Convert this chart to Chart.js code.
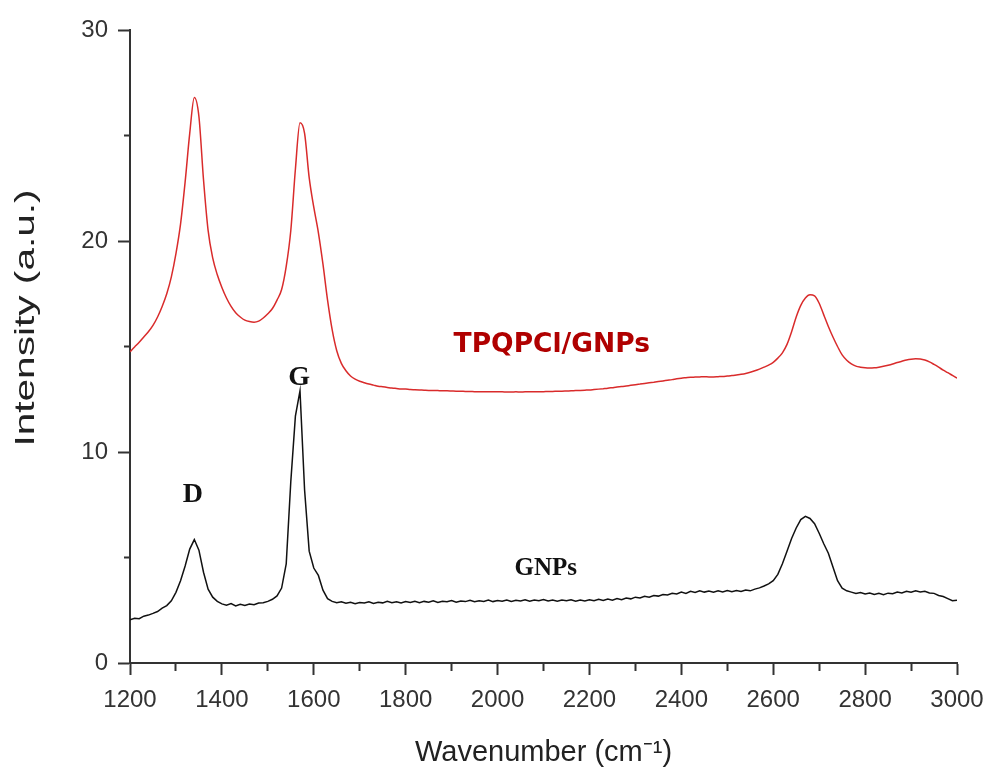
<!DOCTYPE html>
<html>
<head>
<meta charset="utf-8">
<script src="https://cdn.jsdelivr.net/npm/chart.js@4.4.1/dist/chart.umd.min.js"></script>
<style>
  html, body { margin: 0; padding: 0; background: #ffffff; }
  #wrap { width: 988px; height: 769px; }
</style>
</head>
<body>
<div id="wrap"><canvas id="c" width="988" height="769"></canvas></div>
<script>
// ---- data ----
const wavenumbers = [
  1200,1210,1220,1230,1240,1250,1260,1270,1280,1290,
  1300,1310,1320,1330,1340,1350,1360,1370,1380,1390,
  1400,1410,1420,1430,1440,1450,1460,1470,1480,1490,
  1500,1510,1520,1530,1540,1550,1560,1570,1580,1590,
  1600,1610,1620,1630,1640,1650,1660,1670,1680,1690,
  1700,1710,1720,1730,1740,1750,1760,1770,1780,1790,
  1800,1810,1820,1830,1840,1850,1860,1870,1880,1890,
  1900,1910,1920,1930,1940,1950,1960,1970,1980,1990,
  2000,2010,2020,2030,2040,2050,2060,2070,2080,2090,
  2100,2110,2120,2130,2140,2150,2160,2170,2180,2190,
  2200,2210,2220,2230,2240,2250,2260,2270,2280,2290,
  2300,2310,2320,2330,2340,2350,2360,2370,2380,2390,
  2400,2410,2420,2430,2440,2450,2460,2470,2480,2490,
  2500,2510,2520,2530,2540,2550,2560,2570,2580,2590,
  2600,2610,2620,2630,2640,2650,2660,2670,2680,2690,
  2700,2710,2720,2730,2740,2750,2760,2770,2780,2790,
  2800,2810,2820,2830,2840,2850,2860,2870,2880,2890,
  2900,2910,2920,2930,2940,2950,2960,2970,2980,2990,
  3000
];

const tpqpclGnps = [
  14.75,14.98,15.2,15.45,15.7,16.0,16.4,16.9,17.5,18.3,
  19.4,20.8,22.8,25.1,26.8,25.9,22.9,20.5,19.2,18.4,
  17.8,17.3,16.9,16.6,16.4,16.25,16.18,16.15,16.2,16.35,
  16.55,16.8,17.2,17.7,18.8,20.5,23.4,25.6,25.1,23.0,
  21.6,20.4,18.9,17.2,15.8,14.8,14.2,13.85,13.6,13.45,
  13.35,13.28,13.22,13.17,13.12,13.09,13.06,13.03,13.01,12.99,
  12.98,12.96,12.95,12.94,12.93,12.92,12.92,12.91,12.9,12.9,
  12.89,12.88,12.88,12.87,12.87,12.86,12.86,12.86,12.85,12.85,
  12.85,12.85,12.84,12.84,12.85,12.84,12.85,12.85,12.86,12.86,
  12.86,12.87,12.87,12.88,12.88,12.89,12.9,12.91,12.92,12.93,
  12.94,12.96,12.98,13.0,13.02,13.05,13.08,13.1,13.13,13.16,
  13.19,13.22,13.25,13.28,13.31,13.34,13.37,13.4,13.43,13.47,
  13.5,13.52,13.54,13.55,13.56,13.57,13.56,13.56,13.57,13.58,
  13.6,13.62,13.65,13.68,13.72,13.78,13.85,13.93,14.02,14.12,
  14.25,14.45,14.7,15.1,15.7,16.4,16.95,17.3,17.45,17.4,
  17.05,16.5,15.95,15.45,15.0,14.6,14.35,14.18,14.07,14.02,
  13.99,13.98,13.99,14.02,14.06,14.11,14.17,14.24,14.3,14.36,
  14.4,14.42,14.41,14.36,14.27,14.15,14.02,13.88,13.76,13.63,
  13.5
];

const gnps = [
  2.05,2.12,2.1,2.22,2.27,2.35,2.44,2.6,2.72,2.95,
  3.35,3.9,4.6,5.4,5.85,5.35,4.3,3.5,3.12,2.92,
  2.8,2.74,2.82,2.7,2.78,2.73,2.8,2.76,2.84,2.86,
  2.92,3.02,3.18,3.55,4.7,8.6,11.7,12.9,8.2,5.3,
  4.5,4.15,3.45,3.05,2.92,2.86,2.9,2.83,2.88,2.81,
  2.87,2.84,2.9,2.82,2.88,2.85,2.92,2.86,2.9,2.84,
  2.91,2.87,2.93,2.86,2.92,2.88,2.95,2.87,2.93,2.9,
  2.96,2.88,2.94,2.91,2.97,2.9,2.95,2.92,2.98,2.91,
  2.96,2.93,2.99,2.92,2.97,2.94,3.0,2.93,2.98,2.95,
  3.01,2.94,2.99,2.93,2.98,2.95,3.0,2.93,2.98,2.94,
  3.0,2.95,3.02,2.96,3.03,2.98,3.06,3.0,3.08,3.04,
  3.12,3.08,3.16,3.12,3.2,3.17,3.25,3.22,3.3,3.27,
  3.36,3.3,3.4,3.34,3.42,3.36,3.41,3.35,3.42,3.37,
  3.43,3.38,3.44,3.39,3.46,3.42,3.5,3.56,3.65,3.75,
  3.9,4.2,4.7,5.3,5.9,6.4,6.8,6.95,6.85,6.6,
  6.15,5.65,5.2,4.55,3.9,3.55,3.42,3.36,3.3,3.34,
  3.27,3.32,3.25,3.3,3.24,3.31,3.28,3.36,3.32,3.4,
  3.35,3.42,3.37,3.4,3.32,3.3,3.2,3.15,3.05,2.95,
  2.98
];

const xTickValues = [1200,1400,1600,1800,2000,2200,2400,2600,2800,3000];
const yTickValues = [0,10,20,30];

const seriesNames = ['TPQPCl/GNPs', 'GNPs'];
const xAxisTitle = 'Wavenumber (cm⁻¹)';
const yAxisTitle = 'Intensity (a.u.)';
const labelTexts = ['TPQPCl/GNPs', 'G', 'D', 'GNPs'];
const labelAnchorsX = [2118, 1568, 1337, 2105];
const labelAnchorsY = [15.05, 13.5, 7.95, 4.5];

// ---- styles ----
const axisColor = '#333333';
const labelStyles = [
  { font: 'bold 26.5px "DejaVu Sans"', color: '#b00000' },
  { font: 'bold 28px "Liberation Serif"', color: '#111111' },
  { font: 'bold 28px "Liberation Serif"', color: '#111111' },
  { font: 'bold 25px "Liberation Serif"', color: '#111111' }
];
const yTitleStyle = { font: '28px "Liberation Sans", Arial, sans-serif', color: '#222222', stretch: 1.45, left: 26, centerY: 318 };

const annotationPlugin = {
  id: 'textLabels',
  afterDatasetsDraw(chart) {
    const ctx = chart.ctx;
    const xs = chart.scales.x, ys = chart.scales.y;
    ctx.save();
    ctx.textAlign = 'center';
    ctx.textBaseline = 'middle';
    labelTexts.forEach((t, i) => {
      ctx.font = labelStyles[i].font;
      ctx.fillStyle = labelStyles[i].color;
      ctx.fillText(t, xs.getPixelForValue(labelAnchorsX[i]), ys.getPixelForValue(labelAnchorsY[i]));
    });
    ctx.restore();
    // y axis title (drawn stretched along its length, as in the reference)
    ctx.save();
    ctx.translate(yTitleStyle.left, yTitleStyle.centerY);
    ctx.rotate(-Math.PI / 2);
    ctx.scale(yTitleStyle.stretch, 1);
    ctx.font = yTitleStyle.font;
    ctx.fillStyle = yTitleStyle.color;
    ctx.textAlign = 'center';
    ctx.textBaseline = 'middle';
    ctx.fillText(yAxisTitle, 0, 0);
    ctx.restore();
  }
};

const toPoints = (ys) => wavenumbers.map((w, i) => ({ x: w, y: ys[i] }));

new Chart(document.getElementById('c'), {
  type: 'line',
  data: {
    datasets: [
      {
        label: seriesNames[0],
        data: toPoints(tpqpclGnps),
        borderColor: '#d92b2b',
        borderWidth: 1.5,
        pointRadius: 0,
        cubicInterpolationMode: 'monotone',
        fill: false
      },
      {
        label: seriesNames[1],
        data: toPoints(gnps),
        borderColor: '#111111',
        borderWidth: 1.5,
        pointRadius: 0,
        tension: 0,
        fill: false
      }
    ]
  },
  options: {
    responsive: false,
    animation: false,
    events: [],
    layout: { padding: { left: 0, right: 31, top: 30, bottom: 0 } },
    plugins: {
      legend: { display: false },
      tooltip: { enabled: false },
      title: { display: false }
    },
    scales: {
      x: {
        type: 'linear',
        min: 1200,
        max: 3000,
        afterFit: (s) => { s.height = 106; s.paddingLeft = 0; s.paddingRight = 0; },
        afterBuildTicks: (s) => {
          const t = [];
          for (let v = 1200; v <= 3000; v += 100) t.push({ value: v });
          s.ticks = t;
        },
        border: { display: true, color: axisColor, width: 2 },
        grid: {
          drawOnChartArea: false,
          drawTicks: true,
          tickLength: 12,
          tickWidth: 2,
          tickColor: axisColor,
          tickBorderDash: (c) => (c.tick && xTickValues.includes(c.tick.value)) ? [] : [7, 100]
        },
        ticks: {
          autoSkip: false,
          maxRotation: 0,
          color: axisColor,
          padding: 11,
          font: { family: '"Liberation Sans", Arial, sans-serif', size: 24 },
          callback: (v) => xTickValues.includes(v) ? String(v) : ''
        },
        title: {
          display: true,
          text: xAxisTitle,
          color: '#222222',
          font: { family: '"Liberation Sans", Arial, sans-serif', size: 29, lineHeight: 1.1 },
          padding: { top: 0, bottom: 0 }
        }
      },
      y: {
        type: 'linear',
        min: 0,
        max: 30,
        afterFit: (s) => { s.width = 130; },
        afterBuildTicks: (s) => {
          const t = [];
          for (let v = 0; v <= 30; v += 5) t.push({ value: v });
          s.ticks = t;
        },
        border: { display: true, color: axisColor, width: 2 },
        grid: {
          drawOnChartArea: false,
          drawTicks: true,
          tickLength: 12,
          tickWidth: 2,
          tickColor: axisColor,
          tickBorderDash: (c) => (c.tick && yTickValues.includes(c.tick.value)) ? [] : [0, 6, 6, 100]
        },
        ticks: {
          autoSkip: false,
          color: axisColor,
          padding: 10,
          font: { family: '"Liberation Sans", Arial, sans-serif', size: 24 },
          callback: (v) => yTickValues.includes(v) ? String(v) : ''
        },
        title: { display: false }
      }
    }
  },
  plugins: [annotationPlugin]
});
</script>
</body>
</html>
